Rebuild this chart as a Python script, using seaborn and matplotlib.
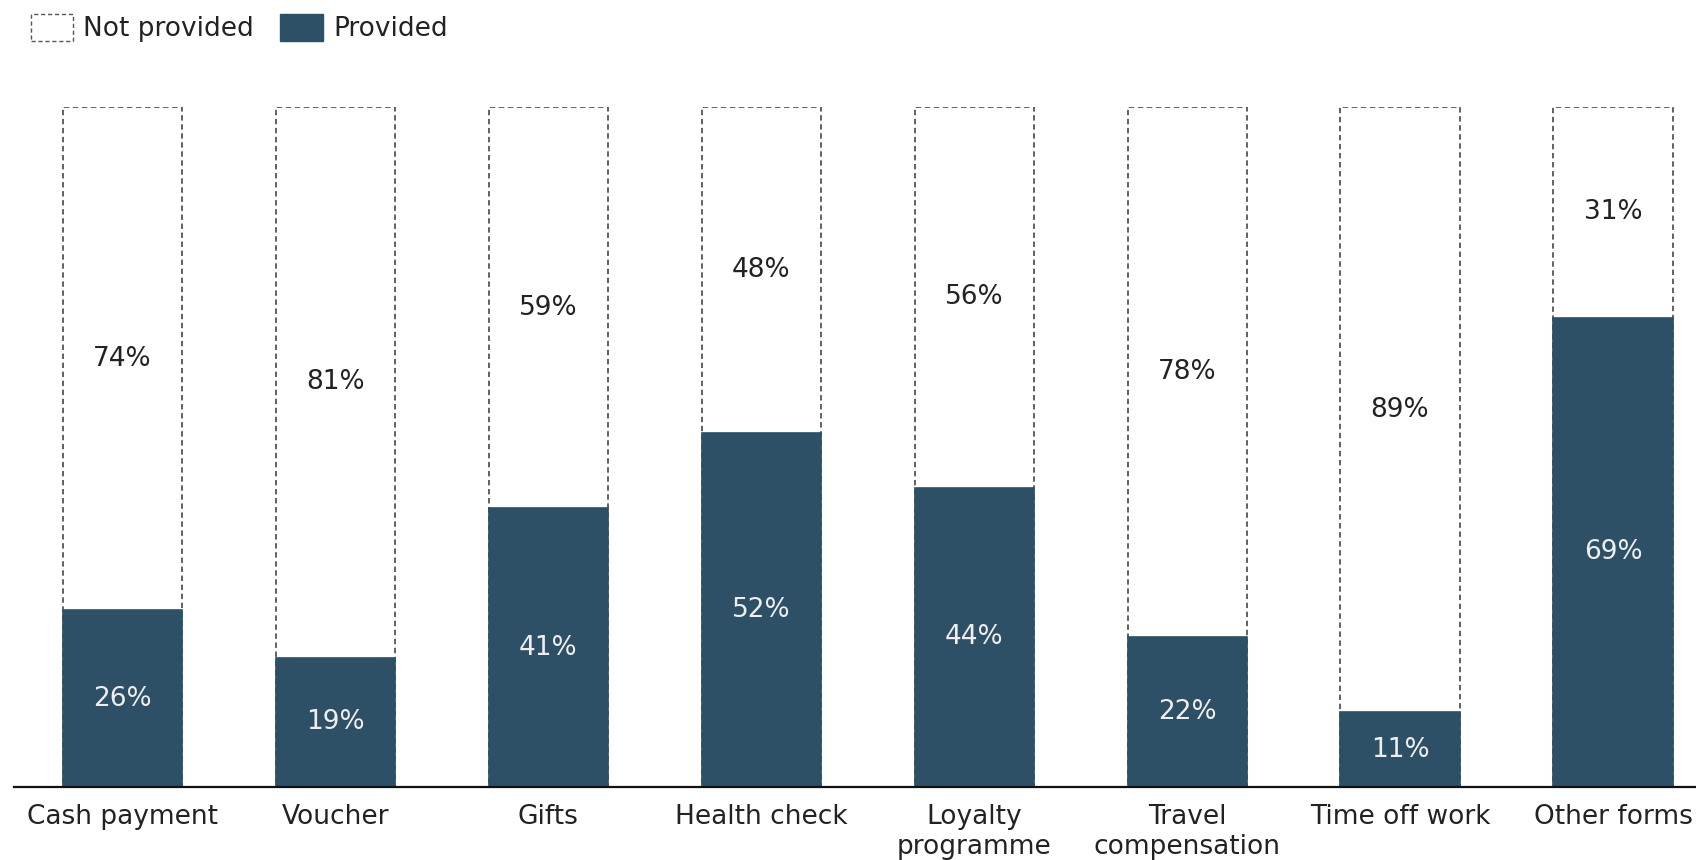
import matplotlib
matplotlib.use("Agg")
import matplotlib.pyplot as plt
from matplotlib.patches import Patch
import seaborn as sns
import pandas as pd

categories = ["Cash payment", "Voucher", "Gifts", "Health check",
              "Loyalty\nprogramme", "Travel\ncompensation", "Time off work", "Other forms"]
provided = [26, 19, 41, 52, 44, 22, 11, 69]
not_provided = [74, 81, 59, 48, 56, 78, 89, 31]

DARK = "#2d5066"
EDGE = "#555555"

sns.set_theme(style="white")
plt.rcParams["font.family"] = ["DejaVu Sans"]

df = pd.DataFrame({"category": categories,
                   "provided": provided,
                   "not_provided": not_provided})
df["total"] = df["provided"] + df["not_provided"]

fig = plt.figure(figsize=(16.96, 8.6), dpi=100)
ax = fig.add_axes([14 / 1696, 73 / 860, 1 - 14 / 1696, (787 - 107) / 860])

# full-height outline for the "not provided" share
sns.barplot(data=df, x="category", y="total", order=categories, ax=ax,
            color="white", edgecolor=EDGE, linewidth=1.3, linestyle=(0, (3, 2)),
            width=0.56, saturation=1, errorbar=None)
# provided share drawn from the baseline
sns.barplot(data=df, x="category", y="provided", order=categories, ax=ax,
            color=DARK, edgecolor=DARK, linewidth=1.2,
            width=0.56, saturation=1, errorbar=None)

for i, (p, n) in enumerate(zip(provided, not_provided)):
    ax.text(i, p / 2, f"{p}%", ha="center", va="center",
            fontsize=19, color="#eeeeee")
    ax.text(i, p + n / 2, f"{n}%", ha="center", va="center",
            fontsize=19, color="#222222")

ax.set_ylim(0, 100)
ax.set_xlim(-0.51, 7.39)
ax.set_xlabel("")
ax.set_ylabel("")
ax.set_yticks([])
ax.tick_params(axis="x", length=0, labelsize=19, colors="#222222", pad=12)
for s in ["top", "right", "left"]:
    ax.spines[s].set_visible(False)
ax.spines["bottom"].set_color("#111111")
ax.spines["bottom"].set_linewidth(1.6)
ax.set_facecolor("white")

handles = [Patch(facecolor="white", edgecolor=EDGE, linestyle=(0, (3, 2)), linewidth=1.0,
                 label="Not provided"),
           Patch(facecolor=DARK, edgecolor=DARK, label="Provided")]
fig.legend(handles=handles, loc="upper left", bbox_to_anchor=(20 / 1696, 1 - 3 / 860),
           borderaxespad=0, ncol=2, frameon=False, fontsize=19,
           handlelength=1.6, handleheight=1.2,
           handletextpad=0.4, columnspacing=1.0, labelcolor="#222222")

fig.savefig("out.png", dpi=100, facecolor="white")
